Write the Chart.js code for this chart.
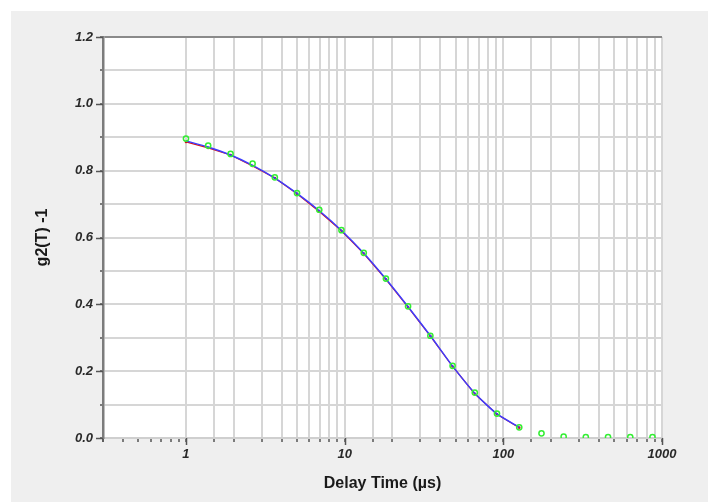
<!DOCTYPE html>
<html>
<head>
<meta charset="utf-8">
<script src="https://cdn.jsdelivr.net/npm/chart.js@4"></script>
<style>
html,body{margin:0;padding:0;background:#fff;}
canvas{display:block;}
</style>
</head>
<body>
<canvas id="c" width="708" height="502"></canvas>
<script>
// Delay times (µs)
const delays = [1.00, 1.38, 1.91, 2.63, 3.63, 5.01, 6.92, 9.55, 13.2, 18.2, 25.1, 34.7, 47.9, 66.1, 91.2, 126, 174, 240, 331, 457, 631, 871];
// Measured g2(T)-1 (green markers)
const measuredG = [0.896, 0.875, 0.850, 0.821, 0.780, 0.733, 0.683, 0.622, 0.554, 0.477, 0.394, 0.306, 0.216, 0.136, 0.073, 0.032, 0.014, 0.004, 0.003, 0.003, 0.003, 0.003];
// Second trace (red)
const traceR = [0.886, 0.868, 0.847, 0.814, 0.778, 0.731, 0.678, 0.620, 0.552, 0.475, 0.392, 0.305, 0.214, 0.132, 0.071, 0.031];
// Fit (blue)
const fitB = [0.889, 0.871, 0.847, 0.816, 0.778, 0.732, 0.680, 0.621, 0.553, 0.476, 0.393, 0.306, 0.215, 0.134, 0.072, 0.032];
// Axis labels
const xMajor = [1, 10, 100, 1000];
const yMajor = [0, 0.2, 0.4, 0.6, 0.8, 1.0, 1.2];

const pts = (ys) => ys.map((y, i) => ({x: delays[i], y}));

const tickFont = {family: 'Liberation Sans', size: 13, style: 'italic', weight: 'bold'};
const titleFont = {family: 'Liberation Sans', size: 16, weight: 'bold'};

const bgPlugin = {
  id: 'bg',
  beforeDraw(chart) {
    const {ctx, chartArea: a} = chart;
    ctx.save();
    ctx.fillStyle = '#ffffff';
    ctx.fillRect(0, 0, chart.width, chart.height);
    ctx.fillStyle = '#efefef';
    ctx.fillRect(11, 11, chart.width - 11, chart.height - 11);
    ctx.fillStyle = '#ffffff';
    ctx.fillRect(a.left, a.top, a.right - a.left, a.bottom - a.top);
    ctx.restore();
  },
  afterDraw(chart) {
    const {ctx, chartArea: a} = chart;
    const xs = chart.scales.x, ys = chart.scales.y;
    ctx.save();
    ctx.strokeStyle = '#555';
    ctx.lineWidth = 1.5;
    ctx.beginPath();
    xMajor.forEach(v => {
      const px = Math.round(xs.getPixelForValue(v)) + 0.5;
      ctx.moveTo(px, a.bottom);
      ctx.lineTo(px, a.bottom + 7);
    });
    yMajor.forEach(v => {
      const py = Math.round(ys.getPixelForValue(v)) + 0.5;
      ctx.moveTo(a.left - 7, py);
      ctx.lineTo(a.left, py);
    });
    ctx.stroke();
    ctx.restore();
  }
};

new Chart(document.getElementById('c'), {
  type: 'scatter',
  data: {
    datasets: [
      {
        label: 'measured',
        data: pts(measuredG),
        showLine: false,
        pointStyle: 'circle',
        pointRadius: 2.6,
        pointBorderWidth: 1.5,
        pointBackgroundColor: 'rgba(0,0,0,0)',
        pointBorderColor: '#33ee33',
        order: 0
      },
      {
        label: 'fit',
        data: pts(fitB),
        showLine: true,
        borderColor: '#3c3cff',
        borderWidth: 1.5,
        tension: 0.2,
        pointRadius: 0,
        order: 1
      },
      {
        label: 'trace',
        data: pts(traceR),
        showLine: true,
        borderColor: '#e01010',
        borderWidth: 1.2,
        pointRadius: 1.3,
        pointBackgroundColor: '#d01010',
        pointBorderColor: '#d01010',
        pointBorderWidth: 0,
        order: 2
      }
    ]
  },
  options: {
    responsive: false,
    animation: false,
    devicePixelRatio: 1,
    layout: {padding: {left: 0, top: 37, right: 46, bottom: 0}},
    plugins: {legend: {display: false}, tooltip: {enabled: false}},
    scales: {
      x: {
        type: 'logarithmic',
        min: 0.3,
        max: 1000,
        afterFit(s) { s.height = 64; },
        border: {display: true, color: '#cfcfcf', width: 2},
        grid: {
          color: (c) => (c.tick && c.tick.value < 0.95 && c.tick.value > 0.31) ? 'rgba(0,0,0,0)' : '#d6d6d6',
          lineWidth: 2,
          tickColor: '#555',
          tickLength: 4,
          tickWidth: 1.5
        },
        ticks: {
          autoSkip: false,
          maxRotation: 0,
          padding: 5,
          color: '#2a2a2a',
          font: tickFont,
          callback: (v) => xMajor.includes(v) ? String(v) : ''
        },
        title: {
          display: true,
          text: 'Delay Time (µs)',
          color: '#1a1a1a',
          font: titleFont,
          padding: {top: 0, bottom: 9}
        }
      },
      y: {
        min: 0,
        max: 1.2,
        afterFit(s) { s.width = 103; },
        border: {display: true, color: '#7c7c7c', width: 2.5},
        grid: {
          color: (c) => (c.tick && Math.abs(c.tick.value - 1.2) < 1e-6) ? '#8a8a8a' : '#d6d6d6',
          lineWidth: 2,
          tickColor: '#555',
          tickLength: 3,
          tickWidth: 1.5
        },
        ticks: {
          stepSize: 0.1,
          autoSkip: false,
          padding: 7,
          color: '#2a2a2a',
          font: tickFont,
          callback: (v) => (Math.round(v * 10) % 2 === 0) ? Number(v).toFixed(1) : ''
        },
        title: {
          display: true,
          text: 'g2(T) -1',
          color: '#1a1a1a',
          font: titleFont,
          padding: {top: 33, bottom: 0}
        }
      }
    }
  },
  plugins: [bgPlugin]
});
</script>
</body>
</html>
